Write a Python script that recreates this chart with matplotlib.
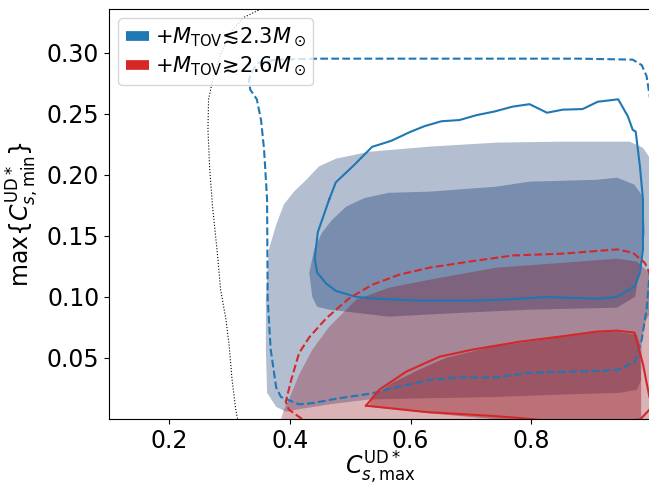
import numpy as np
import matplotlib.pyplot as plt
from matplotlib.lines import Line2D

# dotted bound on the left
prior_x = [0.352, 0.323, 0.302, 0.285, 0.272, 0.265, 0.264, 0.267, 0.272, 0.279,
           0.285, 0.294, 0.299, 0.304, 0.310, 0.313]
prior_y = [0.336, 0.329, 0.317, 0.299, 0.278, 0.262, 0.237, 0.204, 0.172, 0.139,
           0.106, 0.081, 0.061, 0.032, 0.008, 0.000]

# M_TOV <~ 2.3: filled regions (outer / inner)
blue_fill90_x = [0.476, 0.448, 0.427, 0.407, 0.390, 0.377, 0.365, 0.360, 0.360, 0.362,
                 0.377, 0.393, 0.415, 0.465, 0.531, 0.626, 0.736, 0.847, 0.947, 0.975,
                 0.982, 0.983, 0.990, 1.010, 1.010, 0.995, 0.985, 0.963, 0.852, 0.742,
                 0.631, 0.531]
blue_fill90_y = [0.2133, 0.207, 0.196, 0.1865, 0.176, 0.159, 0.139, 0.098, 0.057, 0.0215,
                 0.010, 0.006, 0.008, 0.012, 0.016, 0.017, 0.018, 0.020, 0.0215, 0.024,
                 0.032, 0.065, 0.081, 0.098, 0.180, 0.215, 0.2223, 0.2273, 0.2273, 0.2265,
                 0.2232, 0.219]
blue_fill50_x = [0.432, 0.440, 0.453, 0.470, 0.493, 0.523, 0.564, 0.631, 0.742, 0.797,
                 0.908, 0.942, 0.971, 0.985, 0.988, 0.980, 0.972, 0.942, 0.797, 0.686,
                 0.564, 0.465, 0.445, 0.437]
blue_fill50_y = [0.1197, 0.139, 0.1527, 0.1633, 0.174, 0.181, 0.1854, 0.1863, 0.1904, 0.1945,
                 0.196, 0.1978, 0.192, 0.182, 0.153, 0.125, 0.1003, 0.0912, 0.0896, 0.0871,
                 0.0839, 0.0896, 0.092, 0.100]

# M_TOV >~ 2.6: filled regions (outer / inner)
red_fill90_x = [0.382, 0.390, 0.398, 0.415, 0.437, 0.465, 0.510, 0.564, 0.631, 0.742,
                0.852, 0.942, 0.975, 0.995, 1.010, 1.010]
red_fill90_y = [-0.005, 0.0077, 0.0157, 0.0362, 0.0567, 0.0756, 0.0978, 0.1076, 0.1141, 0.124,
                0.128, 0.1314, 0.129, 0.120, 0.098, -0.005]
red_fill50_x = [0.531, 0.536, 0.570, 0.614, 0.659, 0.736, 0.819, 0.902, 0.942, 0.975,
                0.980, 0.982, 0.982, 0.781, 0.736, 0.626]
red_fill50_y = [0.0102, 0.0182, 0.0297, 0.0404, 0.0502, 0.0593, 0.0650, 0.0707, 0.0715, 0.069,
                0.061, 0.032, -0.005, -0.005, 0.0, 0.0049]

# contour lines
blue_solid_x = [0.465, 0.476, 0.506, 0.536, 0.568, 0.598, 0.623, 0.651, 0.681, 0.709,
                0.739, 0.769, 0.797, 0.826, 0.852, 0.885, 0.910, 0.944, 0.960, 0.968,
                0.973, 0.980, 0.985, 0.985, 0.980, 0.972, 0.942, 0.909, 0.826, 0.742,
                0.686, 0.619, 0.548, 0.510, 0.476, 0.460, 0.445, 0.441, 0.446, 0.465]
blue_solid_y = [0.180, 0.194, 0.208, 0.223, 0.228, 0.235, 0.240, 0.244, 0.245, 0.249,
                0.252, 0.256, 0.258, 0.251, 0.2535, 0.254, 0.260, 0.262, 0.248, 0.237,
                0.2355, 0.207, 0.180, 0.139, 0.120, 0.109, 0.100, 0.0985, 0.100, 0.0975,
                0.097, 0.097, 0.0985, 0.100, 0.105, 0.111, 0.120, 0.131, 0.153, 0.180]
blue_dash_x = [0.377, 0.448, 0.581, 0.747, 0.880, 0.968, 0.983, 0.991, 0.997, 0.998,
               0.997, 0.991, 0.983, 0.972, 0.942, 0.880, 0.797, 0.742, 0.676, 0.631,
               0.576, 0.536, 0.481, 0.437, 0.415, 0.385, 0.377, 0.368, 0.363, 0.362,
               0.357, 0.352, 0.345, 0.334, 0.332, 0.337, 0.348, 0.377]
blue_dash_y = [0.2945, 0.2953, 0.2953, 0.2953, 0.2953, 0.2945, 0.290, 0.281, 0.262, 0.180,
               0.125, 0.090, 0.065, 0.047, 0.040, 0.039, 0.038, 0.034, 0.034, 0.032,
               0.026, 0.021, 0.017, 0.013, 0.012, 0.018, 0.026, 0.057, 0.098, 0.180,
               0.221, 0.245, 0.262, 0.270, 0.278, 0.285, 0.292, 0.2945]
red_solid_x = [0.526, 0.548, 0.593, 0.648, 0.702, 0.781, 0.847, 0.908, 0.942, 0.971,
               0.985, 0.996, 1.005, 0.988, 0.980, 0.880, 0.781, 0.736, 0.626, 0.526]
red_solid_y = [0.0109, 0.024, 0.0389, 0.0511, 0.0568, 0.0634, 0.0675, 0.0716, 0.0724, 0.0708,
               0.045, 0.0175, 0.0125, 0.0036, -0.0005, -0.004, 0.0008, 0.0025, 0.0057, 0.0109]
red_dash_x = [0.420, 0.398, 0.393, 0.402, 0.415, 0.432, 0.460, 0.498, 0.536, 0.581,
              0.631, 0.697, 0.769, 0.852, 0.942, 0.968, 0.988, 0.995, 1.013]
red_dash_y = [0.0, 0.0077, 0.0142, 0.032, 0.054, 0.067, 0.0825, 0.0989, 0.1100, 0.1183,
              0.124, 0.129, 0.134, 0.1355, 0.139, 0.1363, 0.128, 0.1205, 0.0975]

labels = [r'$+M_{\rm TOV}$≲$2.3M_\odot$', r'$+M_{\rm TOV}$≳$2.6M_\odot$']

fig = plt.figure(figsize=(6.49, 4.87), dpi=100)
ax = fig.add_axes([109/649, 68/487, 543/649, 410/487])

blue_fc = '#052a69'
red_fc = '#8a0512'
ax.fill(blue_fill90_x, blue_fill90_y, color=blue_fc, alpha=0.3, lw=0)
ax.fill(blue_fill50_x, blue_fill50_y, color=blue_fc, alpha=0.33, lw=0)
ax.fill(red_fill90_x, red_fill90_y, color=red_fc, alpha=0.3, lw=0)
ax.fill(red_fill50_x, red_fill50_y, color=red_fc, alpha=0.38, lw=0)

ax.plot(blue_solid_x, blue_solid_y, color='tab:blue', lw=1.5)
ax.plot(blue_dash_x, blue_dash_y, color='tab:blue', lw=1.5, ls='--')
ax.plot(red_solid_x, red_solid_y, color='tab:red', lw=1.5)
ax.plot(red_dash_x, red_dash_y, color='tab:red', lw=1.5, ls='--')
ax.plot(prior_x, prior_y, color='k', lw=0.8, ls=':')

ax.set_xlim(0.1, 1.0)
ax.set_ylim(0.0, 0.336)
ax.set_xticks([0.2, 0.4, 0.6, 0.8])
ax.set_yticks([0.05, 0.10, 0.15, 0.20, 0.25, 0.30])
ax.tick_params(labelsize=17)
ax.set_xlabel(r'$C^{\rm UD*}_{s,\max}$', fontsize=17, labelpad=-2)
ax.set_ylabel(r'$\max\{C^{\rm UD*}_{s,\min}\}$', fontsize=17)

handles = [Line2D([], [], color='tab:blue', lw=7, solid_capstyle='butt'),
           Line2D([], [], color='tab:red', lw=7, solid_capstyle='butt')]
ax.legend(handles, labels, loc='upper left', fontsize=15, handlelength=1.1,
          handletextpad=0.3, labelspacing=0.3, borderpad=0.35, borderaxespad=0.45)

fig.savefig('out.png', dpi=100)
